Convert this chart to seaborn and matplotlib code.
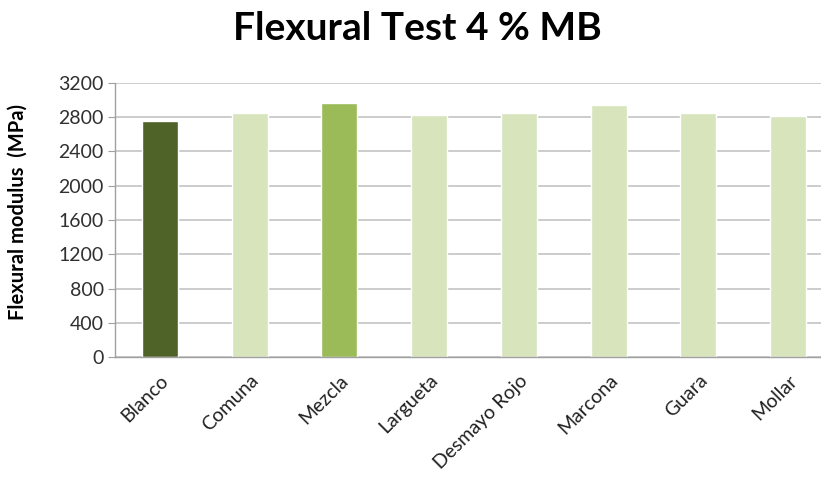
import matplotlib
matplotlib.use("Agg")
import matplotlib.pyplot as plt
import seaborn as sns
import pandas as pd

categories = ["Blanco", "Comuna", "Mezcla", "Largueta", "Desmayo Rojo", "Marcona", "Guara", "Mollar"]
modulus = [2752, 2848, 2962, 2824, 2851, 2939, 2848, 2820]
bar_colors = ["#4f6228", "#d7e4bc", "#9bbb59", "#d7e4bc", "#d7e4bc", "#d7e4bc", "#d7e4bc", "#d7e4bc"]
yticks = [0, 400, 800, 1200, 1600, 2000, 2400, 2800, 3200]

sns.set_style("white")
plt.rcParams["font.family"] = ["Lato", "DejaVu Sans"]

df = pd.DataFrame({"sample": categories, "modulus": modulus})

fig = plt.figure(figsize=(8.21, 4.92), dpi=100)
ax = fig.add_axes([115 / 821, 1 - 357 / 492, 718 / 821, 274 / 492])

sns.barplot(data=df, x="sample", y="modulus", hue="sample", palette=bar_colors,
            legend=False, width=0.4, saturation=1, ax=ax)

ax.set_ylim(0, 3200)
ax.set_yticks(yticks)
ax.set_yticklabels([str(v) for v in yticks], fontsize=14, color="#303030")
ax.yaxis.grid(True, color="#c8c8c8", linewidth=1.3)
ax.set_axisbelow(True)
ax.set_xlim(-0.5, len(categories) - 0.5)

for side in ["top", "right"]:
    ax.spines[side].set_visible(False)
for side in ["left", "bottom"]:
    ax.spines[side].set_color("#a0a0a0")
    ax.spines[side].set_linewidth(1.0)

ax.tick_params(axis="y", left=True, length=5, color="#a0a0a0", pad=3)
ax.tick_params(axis="x", bottom=False, pad=7)
plt.setp(ax.get_xticklabels(), rotation=45, ha="right", rotation_mode="anchor",
         fontsize=14, color="#202020")

ax.set_xlabel("")
ax.set_ylabel("Flexural modulus  (MPa)", fontsize=14.5, fontweight="bold", color="#000000")
ax.yaxis.set_label_coords(-0.122, 0.53)

fig.text(0.508, 0.942, "Flexural Test 4 % MB", ha="center", va="center",
         fontsize=28, fontweight="bold", color="#000000")

fig.savefig("out.png", dpi=100)
